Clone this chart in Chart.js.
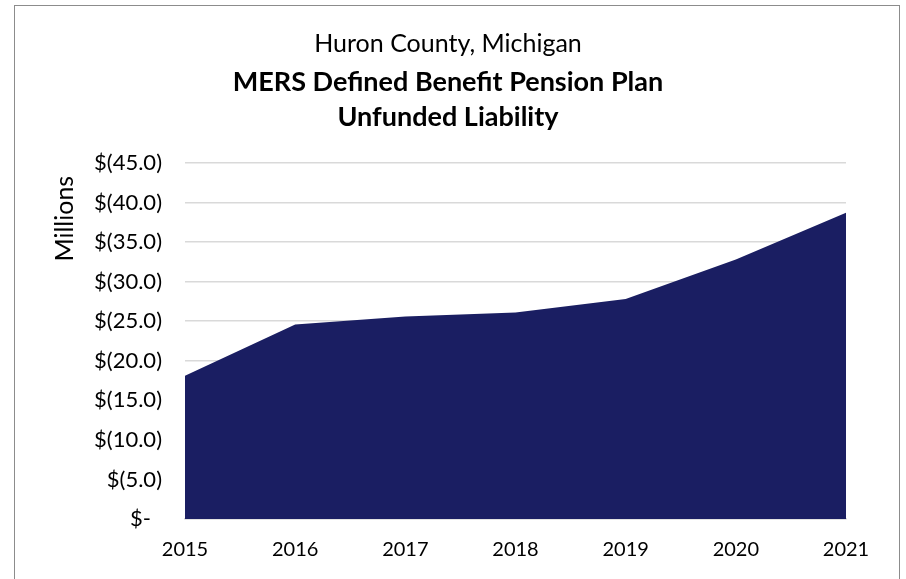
<!DOCTYPE html>
<html>
<head>
<meta charset="utf-8">
<script src="https://cdn.jsdelivr.net/npm/chart.js@4"></script>
<style>
  html, body { margin: 0; padding: 0; background: #fff; }
  #wrap { position: relative; width: 906px; height: 579px; overflow: hidden; }
  #frame { position: absolute; left: 14px; top: 5px; width: 884px; height: 620px;
           border: 1.5px solid #8c8c8c; pointer-events: none; }
</style>
</head>
<body>
<div id="wrap">
  <canvas id="liabChart" width="906" height="579"></canvas>
  <div id="frame"></div>
</div>
<script>
const years = ['2015', '2016', '2017', '2018', '2019', '2020', '2021'];
const unfunded = [18.1, 24.6, 25.6, 26.1, 27.8, 32.8, 38.7]; // millions
const yMax = 45;
const yStep = 5;

document.addEventListener("DOMContentLoaded", function () {
  const ctx = document.getElementById('liabChart').getContext('2d');

  const data = {
    labels: years,
    datasets: [{
      data: unfunded,
      backgroundColor: '#1a1e62',
      borderWidth: 0,
      pointRadius: 0,
      fill: 'origin',
      tension: 0
    }]
  };

  const config = {
    type: 'line',
    data: data,
    options: {
      responsive: false,
      animation: false,
      layout: { padding: { left: 50, right: 60, bottom: -2 } },
      plugins: {
        legend: { display: false },
        tooltip: { enabled: false },
        title: {
          display: true,
          text: 'Huron County, Michigan',
          color: '#000',
          font: { family: 'Lato', size: 25, weight: 'normal', lineHeight: 1.2 },
          padding: { top: 29, bottom: 5.5 }
        },
        subtitle: {
          display: true,
          text: ['MERS Defined Benefit Pension Plan', 'Unfunded Liability'],
          color: '#000',
          font: { family: 'Lato', size: 27, weight: 'bold', lineHeight: 35 / 27 },
          padding: { top: 0, bottom: 28.5 }
        }
      },
      scales: {
        x: {
          grid: { display: false, drawTicks: false },
          border: { display: true, color: '#d9d9d9', width: 1.5 },
          ticks: { color: '#000', font: { family: 'Lato', size: 20 }, padding: 19, maxRotation: 0 }
        },
        y: {
          min: 0,
          max: yMax,
          afterFit: function (scale) { scale.width = 135; },
          grid: { color: '#d9d9d9', lineWidth: 1.5, drawTicks: false },
          border: { display: false },
          title: {
            display: true,
            text: 'Millions  ',
            align: 'end',
            color: '#000',
            font: { family: 'Lato', size: 25 },
            padding: { top: 0, bottom: 0 }
          },
          ticks: {
            stepSize: yStep,
            color: '#000',
            font: { family: 'Lato', size: 22 },
            padding: 23,
            callback: function (v) {
              return v === 0 ? '$-\u2002' : '$(' + v.toFixed(1) + ')';
            }
          }
        }
      }
    }
  };

  new Chart(ctx, config);
});
</script>
</body>
</html>
